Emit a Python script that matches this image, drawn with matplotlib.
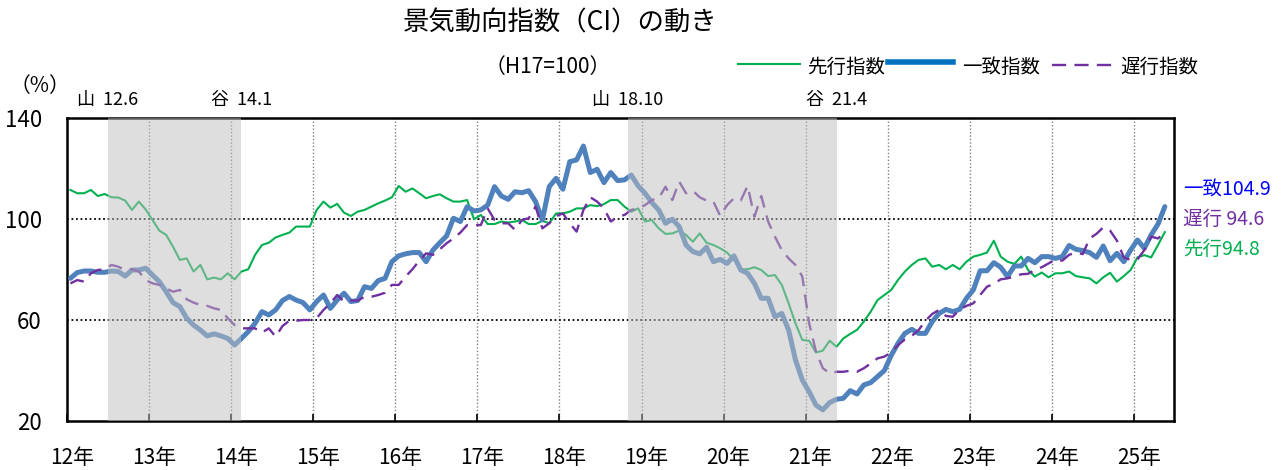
import matplotlib.pyplot as plt
import numpy as np
from matplotlib.lines import Line2D

plt.rcParams['font.family'] = ['Noto Sans CJK JP', 'DejaVu Sans']

# monthly index values, 12年1月 .. 25年5月 (H17=100)
start_year = 12
leading = [
    111.5, 110.2, 110.2, 111.5, 109.1, 109.9, 108.6, 108.5, 107.3, 103.6, 106.9, 103.8,
    99.6, 95.4, 93.7, 89.0, 83.8, 84.4, 79.2, 81.8, 76.1, 76.8, 76.1, 78.5,
    76.1, 79.2, 80.1, 85.8, 89.7, 90.6, 92.7, 93.7, 94.6, 97.0, 97.0, 97.0,
    103.6, 106.9, 104.5, 106.0, 102.5, 101.2, 102.9, 103.6, 104.9, 106.2, 107.3, 108.6,
    113.1, 110.8, 112.1, 110.2, 108.2, 109.1, 109.8, 108.2, 106.9, 106.9, 107.5, 99.9,
    101.6, 98.0, 98.0, 99.0, 98.6, 99.0, 99.6, 98.0, 98.0, 99.3, 98.3, 102.2,
    102.2, 102.9, 104.2, 104.2, 105.5, 105.1, 105.9, 107.5, 107.5, 104.9, 102.9, 104.2,
    99.0, 99.6, 96.3, 94.1, 94.3, 95.4, 93.7, 91.0, 94.3, 90.6, 89.7, 88.4,
    86.7, 83.8, 80.1, 80.1, 80.9, 79.8, 77.4, 77.8, 73.9, 66.6, 58.7, 52.1,
    51.8, 47.1, 47.9, 51.8, 49.4, 52.7, 54.5, 56.1, 59.4, 63.3, 67.9, 69.9,
    71.9, 75.9, 79.2, 81.8, 83.8, 84.4, 81.1, 81.8, 80.1, 81.8, 80.1, 83.1,
    85.1, 85.8, 86.7, 91.4, 85.1, 83.1, 82.2, 85.1, 79.8, 77.2, 78.8, 76.9,
    78.5, 78.5, 79.2, 77.4, 76.9, 76.5, 74.5, 76.9, 78.7, 75.2, 77.4, 79.8,
    84.8, 85.7, 84.8, 89.7, 94.8,
]
coincident = [
    76.5, 78.8, 79.4, 79.4, 78.9, 78.9, 79.4, 79.2, 77.4, 79.8, 79.8, 80.5,
    77.8, 75.2, 71.2, 66.9, 65.3, 60.7, 58.0, 56.0, 53.7, 54.5, 53.7, 52.7,
    50.1, 52.7, 55.4, 58.7, 63.3, 62.0, 64.0, 67.7, 69.3, 67.9, 66.9, 64.0,
    67.3, 69.9, 64.6, 67.9, 70.6, 67.3, 67.7, 73.2, 72.5, 75.6, 76.5, 83.1,
    85.4, 86.2, 86.7, 86.7, 83.1, 87.7, 90.6, 93.3, 100.3, 99.0, 104.9, 103.2,
    103.6, 105.5, 112.8, 109.1, 107.8, 110.8, 110.4, 111.2, 106.9, 99.6, 112.8, 116.1,
    111.8, 122.7, 123.4, 128.9, 118.4, 119.7, 114.4, 118.4, 115.2, 115.5, 117.4, 113.1,
    110.2, 106.5, 103.6, 98.3, 99.9, 97.0, 89.7, 87.1, 86.2, 88.8, 83.1, 84.0,
    82.4, 85.4, 79.8, 78.5, 74.5, 68.6, 68.6, 61.3, 62.6, 56.0, 44.2, 36.2,
    31.6, 26.3, 24.4, 27.3, 28.6, 29.0, 32.0, 30.7, 34.3, 35.2, 37.6, 40.0,
    46.0, 50.8, 54.7, 56.3, 54.7, 54.7, 59.4, 62.6, 64.2, 63.3, 64.2, 68.6,
    71.9, 79.5, 79.5, 82.7, 80.9, 77.2, 81.4, 81.4, 84.4, 82.7, 85.1, 85.1,
    84.4, 85.1, 89.5, 88.0, 87.5, 86.7, 84.8, 89.3, 83.5, 86.4, 83.1, 87.7,
    91.7, 88.4, 93.7, 98.0, 104.9,
]
lagging = [
    74.5, 75.8, 75.2, 78.5, 79.8, 80.1, 81.8, 81.1, 79.8, 80.1, 79.2, 75.8,
    74.5, 73.9, 72.5, 71.2, 71.9, 68.2, 66.9, 65.9, 65.6, 64.6, 64.0, 60.7,
    58.0, 56.7, 56.7, 56.7, 55.0, 56.7, 53.4, 57.6, 59.7, 59.7, 60.0, 60.0,
    60.7, 64.0, 66.6, 69.9, 67.3, 67.7, 67.7, 69.2, 69.2, 69.9, 70.8, 73.9,
    73.9, 77.2, 80.1, 83.5, 86.4, 85.8, 88.0, 90.4, 92.3, 94.6, 97.6, 97.6,
    97.6, 104.2, 99.6, 98.3, 98.3, 95.7, 99.6, 100.3, 104.9, 96.3, 98.3, 101.2,
    102.2, 98.3, 95.0, 103.6, 108.6, 106.9, 104.2, 99.0, 100.9, 101.6, 103.6, 104.2,
    105.5, 107.5, 108.2, 112.8, 107.5, 114.8, 110.2, 111.2, 108.6, 107.3, 106.9, 101.2,
    105.5, 108.2, 107.3, 113.1, 100.9, 109.1, 99.0, 93.0, 87.7, 84.4, 81.8, 77.2,
    58.7, 47.5, 40.9, 38.9, 39.5, 39.5, 39.9, 39.5, 40.9, 42.8, 44.8, 45.5,
    47.1, 50.1, 52.3, 53.7, 56.0, 59.7, 62.4, 64.0, 61.6, 61.3, 64.2, 65.6,
    66.6, 69.9, 73.2, 74.3, 76.1, 76.5, 77.2, 78.1, 78.3, 79.8, 80.9, 82.4,
    84.0, 83.5, 85.8, 86.7, 86.1, 92.3, 94.1, 96.7, 95.4, 91.4, 84.8, 83.8,
    84.0, 87.7, 93.0, 92.3, 94.6,
]
year_labels = ['12年', '13年', '14年', '15年', '16年', '17年', '18年',
               '19年', '20年', '21年', '22年', '23年', '24年', '25年']
peaks = [(12, 6), (18, 10)]
troughs = [(14, 1), (21, 4)]
y_ticks = [20, 60, 100, 140]

GREEN = '#00B050'
BLUE = '#4F81BD'
PURPLE = '#7030A0'
W, H = 1287, 470
LAG_DASH = (0, (6, 3.5))


def month_index(year, month):
    return (year - start_year) * 12 + (month - 1)


def fx(px):
    return px / W


def fy(py):
    return 1 - py / H


fig = plt.figure(figsize=(W / 100, H / 100), dpi=100)
ax = fig.add_axes([fx(67), fy(421), 1107 / W, 303 / H])

x = np.arange(len(coincident))
ax.plot(x, leading, color=GREEN, lw=1.5, zorder=3)
ax.plot(x, coincident, color=BLUE, lw=3.6, zorder=3,
        solid_capstyle='round', solid_joinstyle='round')
ax.plot(x, lagging, color=PURPLE, lw=1.7, ls=LAG_DASH, zorder=3)

# recession shading drawn over the lines
for (py_, pm), (ty, tm) in zip(peaks, troughs):
    ax.axvspan(month_index(py_, pm) + 0.5, month_index(ty, tm) + 1.0,
               color='#BFBFBF', alpha=0.5, lw=0, zorder=4)

for v in (60, 100):
    ax.axhline(v, color='black', lw=1.3, ls=(0, (1, 1.5)), zorder=2)
for i in range(1, len(year_labels)):
    ax.axvline(12 * i - 0.5, color='#808080', lw=1.0, ls=(0, (1, 1.5)), zorder=1)

ax.set_xlim(-0.5, 161.34)
ax.set_ylim(20, 140)
ax.set_xticks([12 * i - 0.5 for i in range(len(year_labels))])
ax.set_xticklabels([])
ax.tick_params(axis='x', direction='in', length=5, width=1.2)
ax.set_yticks(y_ticks)
ax.tick_params(axis='y', length=0, pad=18, labelsize=16)
for s in ax.spines.values():
    s.set_linewidth(1.8)
    s.set_color('black')

for i, lab in enumerate(year_labels):
    ax.text(12 * i - 0.5 + 0.7, -0.122, lab, transform=ax.get_xaxis_transform(),
            ha='center', va='center', fontsize=15)

for (py_, pm), (ty, tm) in zip(peaks, troughs):
    ax.text(month_index(py_, pm) + 0.5, 1.059, f'山  {py_}.{pm}',
            transform=ax.get_xaxis_transform(), ha='center', va='center', fontsize=13)
    ax.text(month_index(ty, tm) + 1.0, 1.059, f'谷  {ty}.{tm}',
            transform=ax.get_xaxis_transform(), ha='center', va='center', fontsize=13)

# end values at the right
ax.text(1.008, 0.762, f'一致{coincident[-1]}', transform=ax.transAxes,
        color='#0000FF', fontsize=14, va='center', ha='left')
ax.text(1.008, 0.667, f'遅行 {lagging[-1]}', transform=ax.transAxes,
        color=PURPLE, fontsize=14, va='center', ha='left')
ax.text(1.008, 0.568, f'先行{leading[-1]}', transform=ax.transAxes,
        color=GREEN, fontsize=14, va='center', ha='left')

fig.text(fx(560), fy(23), '景気動向指数（CI）の動き', ha='center', va='center', fontsize=19)
fig.text(fx(548), fy(67), '（H17=100）', ha='center', va='center', fontsize=15)
fig.text(fx(40), fy(86), '（%）', ha='center', va='center', fontsize=15)

# legend drawn by hand
fig.add_artist(Line2D([fx(738), fx(800)], [fy(64), fy(64)], color=GREEN, lw=1.5))
fig.text(fx(807), fy(67), '先行指数', va='center', fontsize=14)
fig.add_artist(Line2D([fx(888), fx(953)], [fy(62), fy(62)], color='#0070C0', lw=4))
fig.text(fx(962), fy(67), '一致指数', va='center', fontsize=14)
fig.add_artist(Line2D([fx(1052), fx(1113)], [fy(65), fy(65)], color=PURPLE, lw=1.7,
                      ls=LAG_DASH))
fig.text(fx(1120), fy(67), '遅行指数', va='center', fontsize=14)

fig.savefig('out.png', dpi=100)
